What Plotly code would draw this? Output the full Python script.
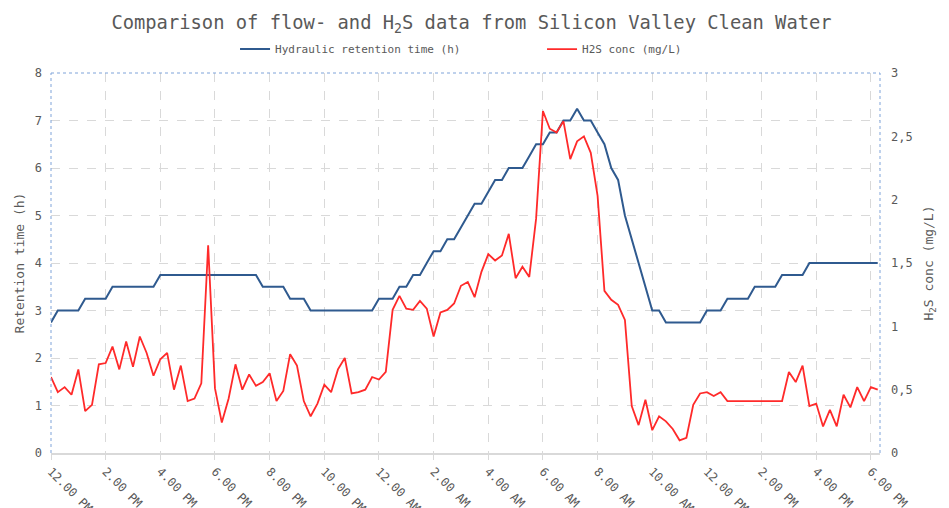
import pandas as pd
import plotly.graph_objects as go

# ---- data (15-minute samples starting 12:00 PM) ----
start_time = "2020-01-01 12:00"
n_points = 122

retention_time_h = [
    2.75, 3.0, 3.0, 3.0, 3.0, 3.25, 3.25, 3.25, 3.25, 3.5,
    3.5, 3.5, 3.5, 3.5, 3.5, 3.5, 3.75, 3.75, 3.75, 3.75,
    3.75, 3.75, 3.75, 3.75, 3.75, 3.75, 3.75, 3.75, 3.75, 3.75,
    3.75, 3.5, 3.5, 3.5, 3.5, 3.25, 3.25, 3.25, 3.0, 3.0,
    3.0, 3.0, 3.0, 3.0, 3.0, 3.0, 3.0, 3.0, 3.25, 3.25,
    3.25, 3.5, 3.5, 3.75, 3.75, 4.0, 4.25, 4.25, 4.5, 4.5,
    4.75, 5.0, 5.25, 5.25, 5.5, 5.75, 5.75, 6.0, 6.0, 6.0,
    6.25, 6.5, 6.5, 6.75, 6.75, 7.0, 7.0, 7.25, 7.0, 7.0,
    6.75, 6.5, 6.0, 5.75, 5.0, 4.5, 4.0, 3.5, 3.0, 3.0,
    2.75, 2.75, 2.75, 2.75, 2.75, 2.75, 3.0, 3.0, 3.0, 3.25,
    3.25, 3.25, 3.25, 3.5, 3.5, 3.5, 3.5, 3.75, 3.75, 3.75,
    3.75, 4.0, 4.0, 4.0, 4.0, 4.0, 4.0, 4.0, 4.0, 4.0,
    4.0, 4.0,
]

h2s_conc_mg_l = [
    0.60, 0.48, 0.52, 0.46, 0.66, 0.33, 0.38, 0.70, 0.71, 0.84,
    0.66, 0.88, 0.68, 0.92, 0.79, 0.61, 0.74, 0.79, 0.50, 0.69,
    0.41, 0.43, 0.55, 1.64, 0.51, 0.24, 0.43, 0.70, 0.50, 0.62,
    0.53, 0.56, 0.63, 0.41, 0.49, 0.78, 0.69, 0.41, 0.29, 0.39,
    0.54, 0.48, 0.66, 0.75, 0.47, 0.48, 0.50, 0.60, 0.58, 0.64,
    1.13, 1.24, 1.14, 1.13, 1.20, 1.14, 0.92, 1.11, 1.13, 1.18,
    1.32, 1.35, 1.23, 1.43, 1.57, 1.52, 1.56, 1.73, 1.38, 1.47,
    1.39, 1.85, 2.70, 2.56, 2.53, 2.62, 2.32, 2.46, 2.50, 2.37,
    2.03, 1.28, 1.21, 1.17, 1.05, 0.37, 0.22, 0.42, 0.18, 0.29,
    0.25, 0.19, 0.10, 0.12, 0.38, 0.47, 0.48, 0.45, 0.48, 0.41,
    0.41, 0.41, 0.41, 0.41, 0.41, 0.41, 0.41, 0.41, 0.64, 0.56,
    0.69, 0.37, 0.39, 0.21, 0.34, 0.21, 0.46, 0.36, 0.52, 0.41,
    0.52, 0.50,
]

tick_labels = [
    "12.00 PM", "2.00 PM", "4.00 PM", "6.00 PM", "8.00 PM", "10.00 PM",
    "12.00 AM", "2.00 AM", "4.00 AM", "6.00 AM", "8.00 AM", "10.00 AM",
    "12.00 PM", "2.00 PM", "4.00 PM", "6.00 PM",
]

times = pd.date_range(start_time, periods=n_points, freq="15min")
tick_vals = pd.date_range(start_time, periods=len(tick_labels), freq="2h")

FONT = "DejaVu Sans Mono"
TXT = "#595959"
GRID = "#d9d9d9"

fig = go.Figure()
fig.add_trace(go.Scatter(
    x=times, y=retention_time_h, mode="lines",
    name="Hydraulic retention time (h)",
    line=dict(color="#2F5A8F", width=2),
))
fig.add_trace(go.Scatter(
    x=times, y=h2s_conc_mg_l, mode="lines", yaxis="y2",
    name="H2S conc (mg/L)",
    line=dict(color="#FF2A2A", width=1.8),
))

# page body has an 8px margin, so the figure is 8px smaller and margins shifted
fig.update_layout(
    width=941, height=500,
    margin=dict(l=43, r=69, t=65, b=55),
    paper_bgcolor="white", plot_bgcolor="white",
    separators=", ",
    font=dict(family=FONT, color=TXT, size=12),
    title=dict(
        text="Comparison of flow- and H<sub>2</sub>S data from Silicon Valley Clean Water",
        x=0.4926, xanchor="center", y=0.972, yanchor="middle",
        font=dict(family=FONT, size=18.8, color=TXT),
    ),
    showlegend=True,
    legend=dict(
        orientation="h", x=0.222, xanchor="left", y=1.063, yanchor="middle",
        font=dict(family=FONT, size=11, color=TXT),
        entrywidth=262, entrywidthmode="pixels",
        itemwidth=30, bgcolor="rgba(0,0,0,0)",
    ),
    xaxis=dict(
        type="date", automargin=False,
        range=[times[0], pd.Timestamp("2020-01-02 18:20")],
        tickvals=tick_vals, ticktext=tick_labels, tickangle=45,
        tickfont=dict(family=FONT, size=12, color=TXT),
        showline=True, linecolor=GRID, linewidth=1.5,
        ticks="outside", ticklen=5, tickcolor=GRID,
        showgrid=True, gridcolor=GRID, griddash="dash", gridwidth=1,
        zeroline=False,
    ),
    yaxis=dict(
        range=[0, 8], dtick=1, automargin=False,
        title=dict(text="Retention time (h)", font=dict(family=FONT, size=13, color=TXT), standoff=7),
        tickfont=dict(family=FONT, size=12, color=TXT),
        showgrid=True, gridcolor=GRID, griddash="dash", gridwidth=1,
        zeroline=False, showline=False, ticklabelstandoff=8,
    ),
    yaxis2=dict(
        range=[0, 3], dtick=0.5, overlaying="y", side="right", automargin=False,
        title=dict(text="H<sub>2</sub>S conc (mg/L)", font=dict(family=FONT, size=13, color=TXT), standoff=12),
        tickfont=dict(family=FONT, size=12, color=TXT),
        showgrid=False, zeroline=False, showline=False, ticklabelstandoff=10,
    ),
)

border = dict(color="#7FA3D9", width=1, dash="dot")
for x0, y0, x1, y1 in [(0, 0, 0, 1), (0, 1, 1, 1), (1, 0, 1, 1)]:
    fig.add_shape(type="line", xref="paper", yref="paper",
                  x0=x0, y0=y0, x1=x1, y1=y1, line=border)

fig.write_html("out.html")
